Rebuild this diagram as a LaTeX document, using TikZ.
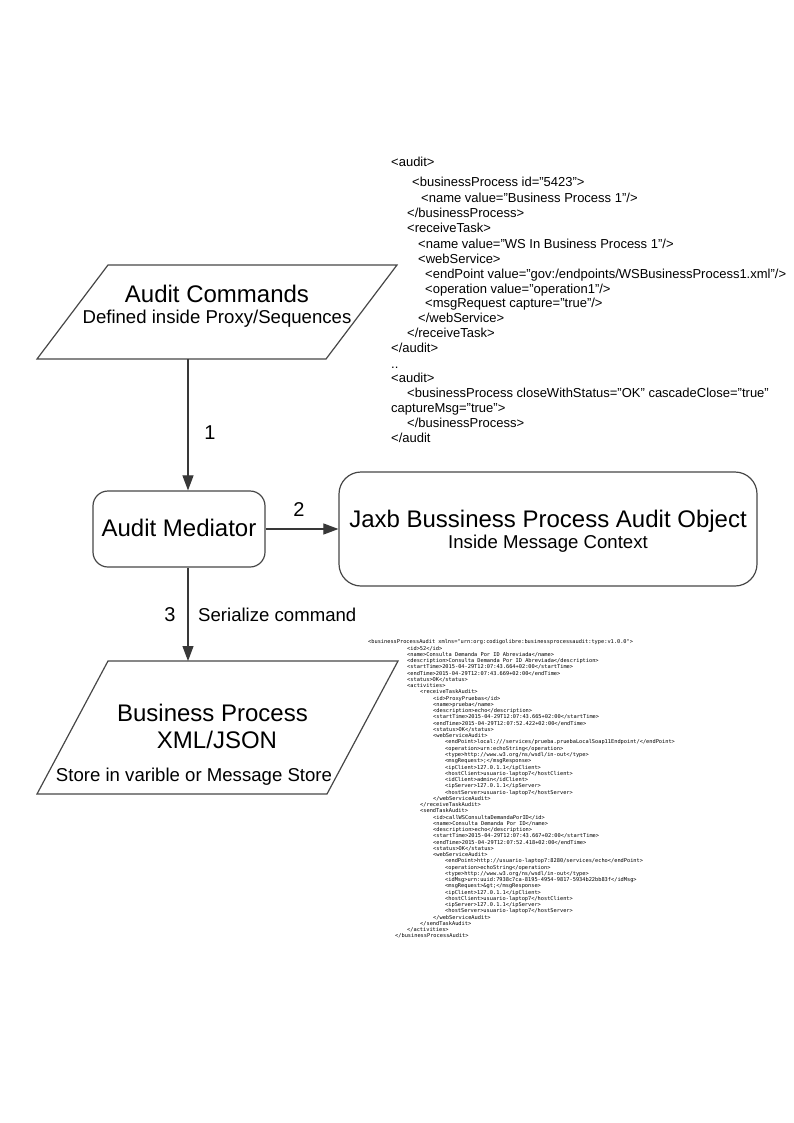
\documentclass[tikz,border=0pt]{standalone}
\usepackage{fontspec}
\setmainfont{Liberation Sans}
\newfontfamily\xmlmono{DejaVu Sans Mono}
\usetikzlibrary{arrows.meta}
\newcommand\xsl[3]{\node[xmlsmall] (sx#1) at (#2,{643.9+(#1-1)*6.255}) {#3};}
\begin{document}
\begin{tikzpicture}[x=1pt,y=-1pt,
  shapeline/.style={draw=black!72, line width=1.2pt},
  conn/.style={draw=black!78, line width=1.1pt, -{Triangle[length=15pt,width=11pt]}},
  big/.style={font=\fontsize{24}{26}\selectfont, inner sep=0, anchor=base},
  mid/.style={font=\fontsize{18.6}{20}\selectfont, inner sep=0, anchor=base},
  lbl/.style={font=\fontsize{20}{22}\selectfont, inner sep=0},
  xmlbig/.style={font=\fontsize{13}{14}\selectfont, inner sep=0, anchor=base west},
  xmlsmall/.style={font=\xmlmono\fontsize{5.3}{6}\selectfont, inner sep=0, anchor=base west},
]
\useasboundingbox (0,0) rectangle (794,1123);
\fill[white] (0,0) rectangle (794,1123);

% Audit Commands parallelogram
\coordinate (ac-tl) at (108,265);
\coordinate (ac-tr) at (397,265);
\coordinate (ac-br) at (326,359);
\coordinate (ac-bl) at (37,359);
\draw[shapeline] (ac-tl) -- (ac-tr) -- (ac-br) -- (ac-bl) -- cycle;
\node[big] (actitle) at (217,302) {Audit Commands};
\node[mid] (acsub) at (217,323) {Defined inside Proxy/Sequences};
\coordinate (ac-out) at (188,359);

% Audit Mediator
\node[shapeline, rounded corners=15pt, minimum width=172pt, minimum height=76pt, inner sep=0] (med) at (179,529) {};
\node[big] (medtxt) at (179,536) {Audit Mediator};

% Jaxb object
\node[shapeline, rounded corners=22pt, minimum width=418pt, minimum height=114pt, inner sep=0] (jaxb) at (548,529) {};
\node[big] (jaxbtxt) at (548,527) {Jaxb Bussiness Process Audit Object};
\node[mid] (jaxbsub) at (548,548) {Inside Message Context};

% Business Process parallelogram
\coordinate (bp-tl) at (108,661);
\coordinate (bp-tr) at (398,661);
\coordinate (bp-br) at (327,794);
\coordinate (bp-bl) at (37,794);
\draw[shapeline] (bp-tl) -- (bp-tr) -- (bp-br) -- (bp-bl) -- cycle;
\node[big] (bpt1) at (212.5,721) {Business Process};
\node[big] (bpt2) at (217,748) {XML/JSON};
\node[mid] (bpt3) at (194,781) {Store in varible or Message Store};
\coordinate (bp-in) at (188,661);

% connectors
\draw[conn] (ac-out) -- (med.north -| ac-out);
\node[lbl] (n1) at (210,433) {1};
\draw[conn] (med.east) -- (jaxb.west);
\node[lbl] (n2) at (299,510) {2};
\draw[conn] (med.south -| bp-in) -- (bp-in);
\node[lbl] (n3) at (170,615) {3};
\node[mid, anchor=west] (ser) at (198,615) {Serialize command};

% upper XML
\node[xmlbig] (ux1) at (391,167) {<audit>};
\node[xmlbig] (ux2) at (412,187) {<businessProcess id="5423">};
\node[xmlbig] (ux3) at (421,203) {<name value="Business Process 1"/>};
\node[xmlbig] (ux4) at (407,218) {</businessProcess>};
\node[xmlbig] (ux5) at (407,233) {<receiveTask>};
\node[xmlbig] (ux6) at (418,248) {<name value="WS In Business Process 1"/>};
\node[xmlbig] (ux7) at (418,263) {<webService>};
\node[xmlbig] (ux8) at (425,278) {<endPoint value="gov:/endpoints/WSBusinessProcess1.xml"/>};
\node[xmlbig] (ux9) at (425,293) {<operation value="operation1"/>};
\node[xmlbig] (ux10) at (425,307) {<msgRequest capture="true"/>};
\node[xmlbig] (ux11) at (418,322) {</webService>};
\node[xmlbig] (ux12) at (407,337) {</receiveTask>};
\node[xmlbig] (ux13) at (391,352) {</audit>};
\node[xmlbig] (ux14) at (391,368) {..};
\node[xmlbig] (ux15) at (391,382) {<audit>};
\node[xmlbig] (ux16) at (407,397) {<businessProcess closeWithStatus="OK" cascadeClose="true"};
\node[xmlbig] (ux17) at (391,412) {captureMsg="true">};
\node[xmlbig] (ux18) at (407,427) {</businessProcess>};
\node[xmlbig] (ux19) at (391,442) {</audit};

% lower XML
\xsl{1}{368}{<businessProcessAudit xmlns="urn:org:codigolibre:businessprocessaudit:type:v1.0.0">}
\xsl{2}{407}{<id>52</id>}
\xsl{3}{407}{<name>Consulta Demanda Por ID Abreviada</name>}
\xsl{4}{407}{<description>Consulta Demanda Por ID Abreviada</description>}
\xsl{5}{407}{<startTime>2015-04-29T12:07:43.664+02:00</startTime>}
\xsl{6}{407}{<endTime>2015-04-29T12:07:43.669+02:00</endTime>}
\xsl{7}{407}{<status>OK</status>}
\xsl{8}{407}{<activities>}
\xsl{9}{420}{<receiveTaskAudit>}
\xsl{10}{433}{<id>ProxyPruebas</id>}
\xsl{11}{433}{<name>prueba</name>}
\xsl{12}{433}{<description>echo</description>}
\xsl{13}{433}{<startTime>2015-04-29T12:07:43.665+02:00</startTime>}
\xsl{14}{433}{<endTime>2015-04-29T12:07:52.422+02:00</endTime>}
\xsl{15}{433}{<status>OK</status>}
\xsl{16}{433}{<webServiceAudit>}
\xsl{17}{445}{<endPoint>local:///services/prueba.pruebaLocalSoap11Endpoint/</endPoint>}
\xsl{18}{445}{<operation>urn:echoString</operation>}
\xsl{19}{445}{<type>http://www.w3.org/ns/wsdl/in-out</type>}
\xsl{20}{445}{<msgRequest>;</msgResponse>}
\xsl{21}{445}{<ipClient>127.0.1.1</ipClient>}
\xsl{22}{445}{<hostClient>usuario-laptop7</hostClient>}
\xsl{23}{445}{<idClient>admin</idClient>}
\xsl{24}{445}{<ipServer>127.0.1.1</ipServer>}
\xsl{25}{445}{<hostServer>usuario-laptop7</hostServer>}
\xsl{26}{433}{</webServiceAudit>}
\xsl{27}{420}{</receiveTaskAudit>}
\xsl{28}{420}{<sendTaskAudit>}
\xsl{29}{433}{<id>callWSConsultaDemandaPorID</id>}
\xsl{30}{433}{<name>Consulta Demanda Por ID</name>}
\xsl{31}{433}{<description>echo</description>}
\xsl{32}{433}{<startTime>2015-04-29T12:07:43.667+02:00</startTime>}
\xsl{33}{433}{<endTime>2015-04-29T12:07:52.418+02:00</endTime>}
\xsl{34}{433}{<status>OK</status>}
\xsl{35}{433}{<webServiceAudit>}
\xsl{36}{445}{<endPoint>http://usuario-laptop7:8280/services/echo</endPoint>}
\xsl{37}{445}{<operation>echoString</operation>}
\xsl{38}{445}{<type>http://www.w3.org/ns/wsdl/in-out</type>}
\xsl{39}{445}{<idMsg>urn:uuid:7938c7ca-8195-4954-9817-5934b22bb83f</idMsg>}
\xsl{40}{445}{<msgRequest>\&gt;</msgResponse>}
\xsl{41}{445}{<ipClient>127.0.1.1</ipClient>}
\xsl{42}{445}{<hostClient>usuario-laptop7</hostClient>}
\xsl{43}{445}{<ipServer>127.0.1.1</ipServer>}
\xsl{44}{445}{<hostServer>usuario-laptop7</hostServer>}
\xsl{45}{433}{</webServiceAudit>}
\xsl{46}{420}{</sendTaskAudit>}
\xsl{47}{407}{</activities>}
\xsl{48}{395}{</businessProcessAudit>}
\end{tikzpicture}
\end{document}
